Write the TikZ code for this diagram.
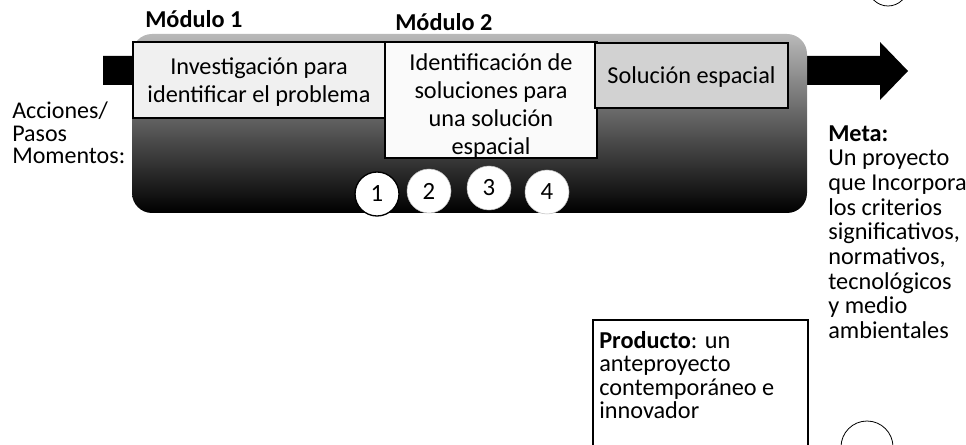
\documentclass[tikz,border=0pt]{standalone}
\usepackage{fontspec}
\setmainfont{Carlito}
\begin{document}
\begin{tikzpicture}[x=0.75pt,y=-0.75pt,
  stepbox/.style={draw=black,line width=1.5pt,inner sep=0pt},
  steptext/.style={inner sep=0pt,align=center,font=\fontsize{18.2}{21.2}\selectfont},
  numcirc/.style={circle,fill=white,minimum size=33pt,inner sep=0pt,
    font=\fontsize{18.6}{20}\selectfont},
  sidetext/.style={inner sep=0pt,align=left,anchor=north west}]
  \useasboundingbox (0,0) rectangle (966,445);
  % arrow behind the module band
  \fill[black] (103,56) -- (880,56) -- (880,42) -- (908,71) -- (880,100) -- (880,85) -- (103,85) -- cycle;
  \shade[top color=gray!55,middle color=gray!18!black,bottom color=black,rounded corners=15pt]
    (132,34) rectangle (807,213);
  \node[stepbox,fill=gray!12,minimum width=189pt,minimum height=57pt] (invest) at (259,80) {};
  \node[steptext] (investtxt) at (259,82) {Investigación para\\identificar el problema};
  \node[stepbox,fill=gray!4,minimum width=159pt,minimum height=87pt] (ident) at (491,100) {};
  \node[steptext] (identtxt) at (491,106) {Identificación de\\soluciones\ para\\una solución\\espacial};
  \node[stepbox,fill=gray!35,minimum width=144.75pt,minimum height=48.75pt] (sol) at (691.5,75.5) {};
  \node[steptext] (soltxt) at (691.5,77) {Solución espacial};
  \node[anchor=base west,inner sep=0pt,font=\fontsize{18.2}{20}\selectfont\bfseries] (mod1) at (145,28) {Módulo 1};
  \node[anchor=base west,inner sep=0pt,font=\fontsize{18.2}{20}\selectfont\bfseries] (mod2) at (395,31) {Módulo 2};
  \node[numcirc,draw=black,line width=1pt] (m1) at (377,194) {1};
  \node[numcirc,draw=gray!50] (m2) at (429,191) {2};
  \node[numcirc,draw=gray!50] (m3) at (489,188) {3};
  \node[numcirc,draw=gray!50] (m4) at (547,192) {4};
  \node[sidetext,font=\fontsize{18}{16.9}\selectfont] (acc) at (12,102)
    {Acciones/\\Pasos\\Momentos:};
  \node[sidetext,font=\fontsize{18.2}{18.5}\selectfont] (meta) at (828,125)
    {\textbf{Meta:}\\Un proyecto\\que Incorpora\\los criterios\\significativos,\\normativos,\\tecnológicos\\y medio\\ambientales};
  \draw[line width=0.8pt] (593,450) -- (593,320) -- (808,320) -- (808,450);
  \node[sidetext,font=\fontsize{18.2}{17.6}\selectfont] (prod) at (599,331)
    {\textbf{Producto}: un\\anteproyecto\\contemporáneo e\\innovador};
  % cut-off circles at the right margin
  \draw[line width=0.6pt] (888,-14) circle[radius=20];
  \draw[line width=0.6pt] (867,447) circle[radius=26];
\end{tikzpicture}
\end{document}
